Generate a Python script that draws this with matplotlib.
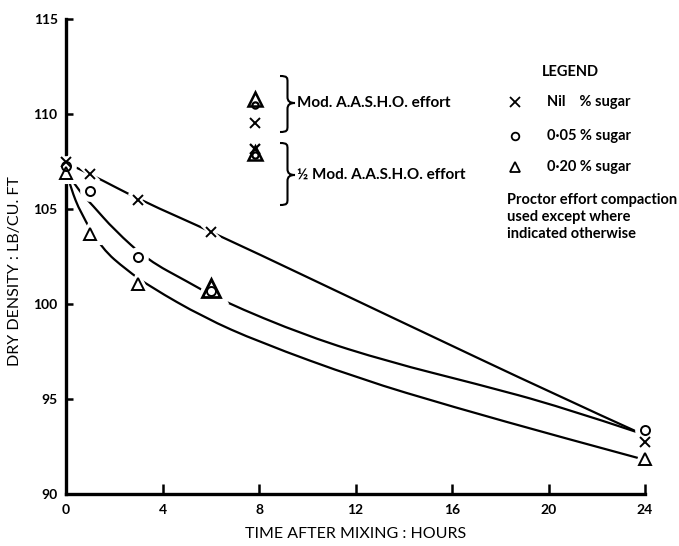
import matplotlib
matplotlib.use("Agg")
import matplotlib.pyplot as plt
from matplotlib.path import Path
from matplotlib.patches import PathPatch

plt.rcParams['font.family'] = ['Lato', 'DejaVu Sans']

# measured points (Proctor effort)
times = [0, 1, 3, 6, 24]
nil_sugar = [107.5, 106.85, 105.45, 103.8, 92.75]
sugar_005 = [107.25, 105.95, 102.5, 100.7, 93.35]
sugar_020 = [106.9, 103.7, 101.05, 100.85, 91.85]

# hand-drawn curves
nil_curve_t = [0.05, 1.0, 3.1, 6.05, 13.5, 20.5, 23.8]
nil_curve_y = [107.4, 106.85, 105.45, 103.8, 99.3, 95.1, 93.2]
c005_curve_t = [0.05, 0.5, 1.1, 2.0, 3.4, 5.0, 6.4, 10.0, 13.4, 17.0, 20.5, 23.8]
c005_curve_y = [106.9, 106.0, 105.2, 103.9, 102.3, 101.2, 100.2, 98.3, 96.95, 95.8, 94.6, 93.2]
c020_curve_t = [0.05, 0.2, 0.6, 1.5, 2.5, 3.5, 5.7, 8.0, 12.2, 16.0, 20.5, 23.7]
c020_curve_y = [106.8, 106.1, 104.8, 102.9, 101.8, 100.9, 99.3, 98.0, 96.05, 94.6, 93.0, 91.9]

# 8 hour points with other compaction efforts
mod_time = 7.85
mod_nil, mod_005, mod_020 = 109.55, 110.45, 110.8
half_nil, half_005, half_020 = 108.15, 107.85, 107.95

fig = plt.figure(figsize=(6.79, 5.46), dpi=100)
ax = fig.add_axes([66 / 679, 1 - 494 / 546, 579 / 679, 475 / 546])
ax.set_xlim(0, 24)
ax.set_ylim(90, 115)


def smooth_curve(t, y):
    pts = list(zip(t, y))
    verts = [pts[0]]
    codes = [Path.MOVETO]
    for i in range(1, len(pts) - 1):
        if i < len(pts) - 2:
            end = ((pts[i][0] + pts[i + 1][0]) / 2, (pts[i][1] + pts[i + 1][1]) / 2)
        else:
            end = pts[-1]
        verts += [pts[i], end]
        codes += [Path.CURVE3, Path.CURVE3]
    ax.add_patch(PathPatch(Path(verts, codes), fill=False, lw=1.6, color='black', zorder=2))


smooth_curve(nil_curve_t, nil_curve_y)
smooth_curve(c005_curve_t, c005_curve_y)
smooth_curve(c020_curve_t, c020_curve_y)


def mark(x, y, m, ms, mew=1.4, halo=True):
    if halo:
        ax.plot(x, y, ls='none', marker=m, ms=ms + 4, mfc='white', mec='white', mew=mew + 3, zorder=3, clip_on=False)
    ax.plot(x, y, ls='none', marker=m, ms=ms, mfc='none', mec='black', mew=mew, zorder=4, clip_on=False)


mark(times, nil_sugar, 'x', 7)
mark(times, sugar_005, 'o', 6.5)
mark(times[:3] + times[4:], sugar_020[:3] + sugar_020[4:], '^', 8)
mark(times[3], sugar_020[3], '^', 13, mew=2.0)

# effort points
mark(mod_time, mod_020, '^', 10, mew=1.8, halo=False)
mark(mod_time, mod_005, 'o', 4.5, mew=1.6, halo=False)
mark(mod_time, mod_nil, 'x', 7, halo=False)
mark(mod_time, half_020, '^', 10, mew=1.8, halo=False)
mark(mod_time, half_005, 'o', 4.5, mew=1.6, halo=False)
mark(mod_time, half_nil, 'x', 7.5, mew=1.6, halo=False)

for s in ['top', 'right']:
    ax.spines[s].set_visible(False)
for s in ['left', 'bottom']:
    ax.spines[s].set_linewidth(2.4)

ax.set_xticks([0, 4, 8, 12, 16, 20, 24])
ax.set_yticks([90, 95, 100, 105, 110, 115])
ax.tick_params(axis='x', direction='in', length=7, width=1.8, pad=7, labelsize=10)
ax.tick_params(axis='y', direction='in', length=5, width=1.8, pad=6, labelsize=10)
for lab in ax.get_xticklabels() + ax.get_yticklabels():
    lab.set_fontweight('bold')

ax.set_xlabel('TIME AFTER MIXING : HOURS', fontsize=11.5, labelpad=8)
ax.set_ylabel('DRY DENSITY : LB/CU. FT', fontsize=11.5)
ax.yaxis.set_label_coords(-0.076, 0.47)


def brace(x0, x1, yt, yb, ym):
    xm = (x0 + x1) / 2
    r = 6
    pts = [(x0, yt), (xm, yt), (xm, yt + 0.3 * r), (xm, yt + r),
           (xm, ym - r),
           (xm, ym - 0.3 * r), (xm + 0.3 * (x1 - xm), ym), (x1, ym),
           (xm + 0.3 * (x1 - xm), ym), (xm, ym + 0.3 * r), (xm, ym + r),
           (xm, yb - r),
           (xm, yb - 0.3 * r), (xm, yb), (x0, yb)]
    codes = [Path.MOVETO] + [Path.CURVE4] * 3 + [Path.LINETO] + [Path.CURVE4] * 6 + [Path.LINETO] + [Path.CURVE4] * 3
    verts = [(px / 679, 1 - py / 546) for px, py in pts]
    fig.add_artist(PathPatch(Path(verts, codes), transform=fig.transFigure, fill=False, lw=1.5, color='black'))


brace(280, 295, 76, 132, 103)
brace(280, 295, 143, 205, 175)
fig.text(297 / 679, 1 - 103 / 546, 'Mod. A.A.S.H.O. effort', fontsize=11, fontweight='bold', va='center')
fig.text(297 / 679, 1 - 175 / 546, '½ Mod. A.A.S.H.O. effort', fontsize=11, fontweight='bold', va='center')

# legend block
fig.text(570 / 679, 1 - 72 / 546, 'LEGEND', fontsize=10.5, fontweight='bold', ha='center', va='center')
leg_rows = [('x', 6.5, 'Nil    % sugar', 102), ('o', 5.5, '0·05 % sugar', 136), ('^', 7.5, '0·20 % sugar', 167)]
for m, ms, label, py in leg_rows:
    ax.plot((515 - 66) / 579, (494 - py) / 475, transform=ax.transAxes, marker=m, ms=ms, mfc='none',
            mec='black', mew=1.3, ls='none', clip_on=False)
    fig.text(547 / 679, 1 - py / 546, label, fontsize=10.5, fontweight='bold', va='center')
for i, line in enumerate(['Proctor effort compaction', 'used except where', 'indicated otherwise']):
    fig.text(507 / 679, 1 - (200 + 17 * i) / 546, line, fontsize=10.5, fontweight='bold', va='center')

fig.savefig('out.png', dpi=100)
